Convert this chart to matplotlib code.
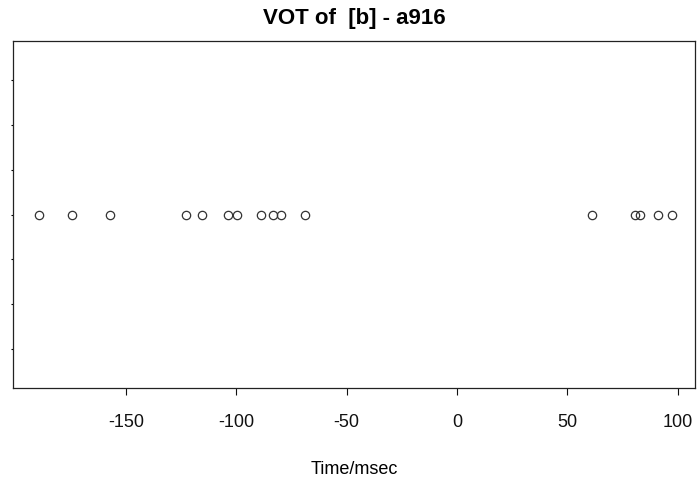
import matplotlib.pyplot as plt
import numpy as np

plt.rcParams['font.family'] = ['Liberation Sans', 'DejaVu Sans']

# VOT values (msec)
vot_negative = [-189.3, -174.4, -157.2, -122.7, -115.5, -103.7, -99.6,
                -88.8, -83.3, -79.7, -68.8]
vot_positive = [61.1, 80.6, 82.9, 91.0, 97.4]
x_ticks = [-150, -100, -50, 0, 50, 100]
y_ticks = [-3, -2, -1, 0, 1, 2, 3]

values = np.array(vot_negative + vot_positive)

fig = plt.figure(figsize=(6.97, 4.79), dpi=100)
ax = fig.add_axes([13 / 697, 91 / 479, 682 / 697, 347 / 479])

ax.plot(values, np.zeros_like(values), linestyle='none', marker='o',
        markersize=6.0, markerfacecolor='none', markeredgecolor='#333333',
        markeredgewidth=0.9)

ax.set_xlim(-201.1, 107.8)
ax.set_ylim(-3.88, 3.88)
ax.set_xticks(x_ticks)
ax.set_xticklabels([str(t) for t in x_ticks])
ax.set_yticks(y_ticks)
ax.set_yticklabels([])

ax.tick_params(axis='x', direction='out', length=5, width=0.8,
               labelsize=13, pad=14, colors='#111111')
ax.tick_params(axis='y', direction='out', length=1.5, width=0.8)
for s in ax.spines.values():
    s.set_linewidth(0.9)
    s.set_color('#222222')

ax.set_title('VOT of  [b] - a916', fontsize=16, fontweight='bold', pad=12)
ax.set_xlabel('Time/msec', fontsize=13, labelpad=21)

fig.savefig('out.png', dpi=100)
